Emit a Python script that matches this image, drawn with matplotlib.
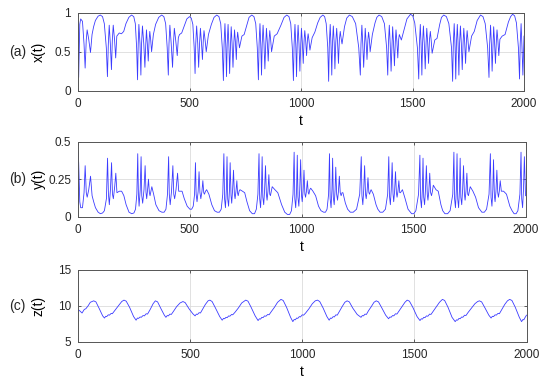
"""
plot.py
Time series x(t), y(t), z(t) in three stacked panels -> out.png
"""
import matplotlib
matplotlib.use("Agg")
import matplotlib.pyplot as plt

# time points shared by x(t) and y(t)
t_xy = [
    0, 3, 8, 12, 20, 27, 32, 37, 41, 48, 56, 63, 70,
    78, 90, 100, 110, 118, 127, 132, 136, 140, 145, 150, 154, 158, 164, 169, 174,
    185, 195, 205, 215,
    228, 240, 250, 257, 263, 267, 270, 273, 278, 282, 285, 289, 295, 300, 304, 307,
    311, 315, 319, 322, 326, 330, 338, 348,
    362, 375, 385, 393, 400, 405, 408, 412, 418, 424, 428, 432, 438, 445, 450, 455,
    465, 475,
    488, 500, 508, 515, 521, 525, 528, 532, 537, 541, 545, 549, 554, 558, 562, 565,
    570, 575, 585, 598,
    610, 622, 632, 640, 647, 652, 655, 659, 663, 666, 669, 673, 677, 680, 684, 687,
    691, 695, 699, 702, 706, 710, 713, 716, 720, 724, 735, 745, 755,
    767, 779, 789, 797, 804, 809, 812, 816, 820, 823, 826, 830, 834, 838, 842, 845,
    849, 853, 857, 860, 864, 868, 880, 893, 910,
    924, 936, 946, 954, 961, 966, 969, 973, 977, 980, 983, 987, 991, 995, 999, 1002,
    1006, 1010, 1014, 1017, 1021, 1025, 1029, 1032, 1036, 1040, 1050, 1062, 1075,
    1086, 1098, 1106, 1113, 1120, 1124, 1127, 1131, 1135, 1138, 1141, 1145, 1149,
    1152, 1156, 1160, 1164, 1168, 1172, 1176, 1180, 1184, 1195,
    1205, 1217, 1230, 1245, 1259, 1266, 1269, 1273, 1277, 1281, 1285, 1288, 1292,
    1296, 1300, 1303, 1307, 1310, 1320, 1332,
    1340, 1350, 1362, 1374, 1384, 1389, 1392, 1396, 1400, 1404, 1408, 1411, 1415,
    1419, 1423, 1426, 1430, 1434, 1438, 1441, 1450, 1462, 1475,
    1491, 1501, 1510, 1522, 1528, 1531, 1535, 1539, 1542, 1545, 1549, 1553, 1557,
    1561, 1564, 1568, 1572, 1576, 1580, 1584, 1588, 1600, 1610, 1622,
    1630, 1640, 1652, 1663, 1675, 1680, 1683, 1687, 1691, 1694, 1697, 1701, 1705,
    1708, 1711, 1715, 1719, 1723, 1727, 1730, 1734, 1738, 1742, 1745, 1749, 1753,
    1765, 1777, 1790,
    1805, 1816, 1826, 1837, 1843, 1846, 1850, 1854, 1857, 1861, 1864, 1868, 1872,
    1876, 1879, 1883, 1887, 1892, 1902, 1915, 1930,
    1940, 1949, 1958, 1966, 1975, 1980, 1983, 1987, 1991, 1995, 2000,
]

x_vals = [
    0.55, 0.17, 0.85, 0.92, 0.89, 0.60, 0.29, 0.65, 0.78, 0.66, 0.49, 0.72, 0.82,
    0.90, 0.955, 0.97, 0.95, 0.86, 0.55, 0.18, 0.60, 0.84, 0.60, 0.27, 0.65, 0.84, 0.65, 0.42, 0.70,
    0.74, 0.73, 0.76, 0.86,
    0.94, 0.97, 0.95, 0.86, 0.55, 0.14, 0.60, 0.85, 0.60, 0.20, 0.60, 0.83, 0.60, 0.30, 0.60, 0.78,
    0.60, 0.38, 0.65, 0.76, 0.65, 0.50, 0.72, 0.85,
    0.94, 0.97, 0.95, 0.86, 0.55, 0.20, 0.60, 0.84, 0.60, 0.30, 0.60, 0.80, 0.65, 0.45, 0.68, 0.72,
    0.74, 0.82,
    0.92, 0.95, 0.93, 0.85, 0.55, 0.22, 0.60, 0.83, 0.60, 0.30, 0.60, 0.80, 0.60, 0.40, 0.65, 0.77,
    0.65, 0.50, 0.72, 0.85,
    0.94, 0.97, 0.95, 0.86, 0.55, 0.13, 0.60, 0.86, 0.55, 0.18, 0.60, 0.85, 0.55, 0.22, 0.60, 0.82,
    0.60, 0.30, 0.62, 0.78, 0.62, 0.40, 0.65, 0.75, 0.65, 0.55, 0.70, 0.72, 0.82,
    0.94, 0.97, 0.95, 0.86, 0.55, 0.14, 0.60, 0.86, 0.55, 0.20, 0.60, 0.84, 0.60, 0.28, 0.60, 0.80,
    0.62, 0.38, 0.65, 0.77, 0.65, 0.50, 0.70, 0.73, 0.84,
    0.94, 0.97, 0.95, 0.86, 0.55, 0.13, 0.60, 0.85, 0.55, 0.18, 0.60, 0.84, 0.60, 0.25, 0.60, 0.80,
    0.62, 0.35, 0.65, 0.77, 0.64, 0.45, 0.66, 0.73, 0.64, 0.52, 0.68, 0.75, 0.87,
    0.94, 0.97, 0.95, 0.86, 0.55, 0.12, 0.60, 0.85, 0.55, 0.20, 0.60, 0.83, 0.60,
    0.28, 0.62, 0.80, 0.62, 0.35, 0.65, 0.76, 0.67, 0.60, 0.82,
    0.93, 0.97, 0.95, 0.86, 0.55, 0.20, 0.60, 0.84, 0.60, 0.30, 0.60, 0.80, 0.62,
    0.40, 0.65, 0.75, 0.65, 0.50, 0.72, 0.87,
    0.94, 0.97, 0.95, 0.86, 0.55, 0.20, 0.60, 0.84, 0.60, 0.25, 0.60, 0.82, 0.60,
    0.32, 0.63, 0.78, 0.63, 0.42, 0.66, 0.72, 0.65, 0.78, 0.92,
    0.98, 0.96, 0.87, 0.55, 0.15, 0.60, 0.85, 0.55, 0.20, 0.60, 0.83, 0.60, 0.28,
    0.62, 0.80, 0.62, 0.35, 0.65, 0.76, 0.64, 0.48, 0.65, 0.67, 0.85,
    0.94, 0.97, 0.95, 0.86, 0.55, 0.12, 0.60, 0.86, 0.55, 0.15, 0.60, 0.85, 0.55,
    0.20, 0.60, 0.83, 0.60, 0.27, 0.62, 0.80, 0.62, 0.35, 0.65, 0.77, 0.64, 0.50,
    0.70, 0.76, 0.90,
    0.97, 0.95, 0.86, 0.55, 0.17, 0.60, 0.84, 0.58, 0.25, 0.60, 0.82, 0.62, 0.35,
    0.64, 0.78, 0.64, 0.45, 0.66, 0.70, 0.72, 0.88,
    0.95, 0.98, 0.96, 0.87, 0.55, 0.15, 0.60, 0.86, 0.55, 0.20, 0.70,
]

y_vals = [
    0.43, 0.36, 0.10, 0.06, 0.06, 0.16, 0.34, 0.16, 0.13, 0.18, 0.27, 0.14, 0.10,
    0.06, 0.03, 0.02, 0.025, 0.04, 0.12, 0.39, 0.15, 0.08, 0.18, 0.36, 0.15, 0.12, 0.20, 0.29, 0.16,
    0.17, 0.17, 0.14, 0.08,
    0.03, 0.02, 0.025, 0.05, 0.15, 0.42, 0.15, 0.07, 0.18, 0.40, 0.14, 0.09, 0.18, 0.34, 0.16, 0.12,
    0.18, 0.25, 0.16, 0.14, 0.17, 0.20, 0.15, 0.08,
    0.04, 0.03, 0.03, 0.05, 0.15, 0.40, 0.15, 0.08, 0.17, 0.34, 0.15, 0.12, 0.18, 0.29, 0.17, 0.17,
    0.17, 0.12,
    0.07, 0.05, 0.05, 0.07, 0.15, 0.36, 0.15, 0.10, 0.17, 0.30, 0.16, 0.12, 0.17, 0.24, 0.16, 0.15,
    0.17, 0.18, 0.15, 0.08,
    0.04, 0.03, 0.03, 0.05, 0.15, 0.42, 0.12, 0.06, 0.18, 0.40, 0.12, 0.07, 0.18, 0.36, 0.14, 0.09,
    0.18, 0.31, 0.15, 0.12, 0.17, 0.24, 0.16, 0.14, 0.17, 0.18, 0.17, 0.16, 0.10,
    0.04, 0.02, 0.02, 0.05, 0.15, 0.42, 0.12, 0.06, 0.18, 0.40, 0.13, 0.08, 0.18, 0.34, 0.15, 0.11,
    0.17, 0.28, 0.15, 0.14, 0.17, 0.20, 0.18, 0.16, 0.08,
    0.03, 0.015, 0.015, 0.04, 0.15, 0.43, 0.12, 0.06, 0.18, 0.41, 0.13, 0.07, 0.18, 0.38, 0.14, 0.10,
    0.17, 0.31, 0.15, 0.13, 0.17, 0.24, 0.16, 0.15, 0.18, 0.19, 0.17, 0.14, 0.07,
    0.04, 0.03, 0.03, 0.05, 0.15, 0.42, 0.12, 0.06, 0.18, 0.39, 0.13, 0.08, 0.18,
    0.33, 0.15, 0.11, 0.17, 0.27, 0.16, 0.14, 0.16, 0.16, 0.09,
    0.05, 0.03, 0.03, 0.05, 0.15, 0.40, 0.14, 0.08, 0.18, 0.34, 0.15, 0.12, 0.17,
    0.26, 0.16, 0.15, 0.17, 0.18, 0.15, 0.08,
    0.05, 0.03, 0.03, 0.05, 0.15, 0.40, 0.14, 0.08, 0.18, 0.36, 0.15, 0.10, 0.17,
    0.30, 0.16, 0.13, 0.17, 0.24, 0.16, 0.16, 0.18, 0.12, 0.05,
    0.02, 0.02, 0.04, 0.15, 0.41, 0.12, 0.06, 0.18, 0.39, 0.13, 0.08, 0.18, 0.34,
    0.15, 0.11, 0.17, 0.29, 0.16, 0.14, 0.17, 0.21, 0.18, 0.17, 0.08,
    0.04, 0.02, 0.02, 0.04, 0.15, 0.43, 0.12, 0.06, 0.18, 0.42, 0.12, 0.06, 0.18,
    0.39, 0.13, 0.08, 0.18, 0.34, 0.15, 0.11, 0.17, 0.29, 0.15, 0.14, 0.17, 0.20,
    0.17, 0.13, 0.06,
    0.03, 0.03, 0.05, 0.15, 0.42, 0.13, 0.07, 0.18, 0.38, 0.14, 0.10, 0.17, 0.31,
    0.16, 0.13, 0.17, 0.24, 0.17, 0.17, 0.15, 0.07,
    0.04, 0.02, 0.02, 0.04, 0.15, 0.43, 0.12, 0.06, 0.18, 0.40, 0.14,
]

# z(t) has its own sampling
t_z = [
    0, 8, 18, 28, 35, 45, 55, 70, 80, 95, 110, 118,
    124, 128, 135, 140, 148, 153, 165, 180, 195, 205, 215, 230, 248, 259,
    265, 270, 277, 282, 290, 296, 304, 310, 322, 335, 345, 355, 370, 385, 392,
    398, 403, 410, 416, 425, 440, 455, 468, 478, 495, 512, 522,
    528, 533, 540, 546, 555, 568, 580, 588, 598, 613, 632, 643,
    649, 654, 660, 665, 672, 677, 685, 690, 700, 715, 730, 748, 758, 772, 790, 803,
    809, 814, 820, 825, 832, 838, 846, 852, 862, 876, 890, 905, 915, 930, 948, 958,
    964, 969, 975, 980, 987, 992, 1000, 1006, 1015, 1030, 1045, 1058, 1068, 1078,
    1093, 1110, 1120,
    1126, 1131, 1138, 1143, 1150, 1156, 1165, 1178, 1190, 1200, 1210, 1225, 1245, 1262,
    1268, 1273, 1280, 1286, 1295, 1308, 1320, 1330, 1340, 1355, 1372, 1385,
    1391, 1396, 1403, 1408, 1416, 1422, 1432, 1445, 1458, 1468, 1478, 1493, 1512, 1525,
    1531, 1536, 1542, 1547, 1554, 1560, 1568, 1574, 1585, 1598, 1612, 1625, 1635,
    1650, 1668, 1682,
    1688, 1693, 1699, 1704, 1711, 1716, 1724, 1730, 1740, 1755, 1770, 1782, 1790,
    1800, 1815, 1832, 1842,
    1848, 1853, 1860, 1865, 1873, 1879, 1890, 1903, 1915, 1925, 1935, 1950, 1968, 1978,
    1984, 1988, 1994, 2000,
]

z_vals = [
    9.5, 9.3, 9.0, 9.5, 9.6, 10.0, 10.5, 10.7, 10.55, 9.6, 8.6, 8.3,
    8.55, 8.5, 8.75, 8.7, 8.95, 8.9, 9.4, 10.0, 10.6, 10.8, 10.65, 9.8, 8.5, 8.0,
    8.3, 8.25, 8.45, 8.4, 8.65, 8.6, 8.9, 8.85, 9.5, 10.3, 10.7, 10.55, 9.6, 8.7, 8.4,
    8.65, 8.6, 8.85, 8.8, 9.2, 9.9, 10.4, 10.6, 10.45, 9.6, 8.9, 8.6,
    8.85, 8.8, 9.05, 9.0, 9.5, 10.2, 10.7, 10.8, 10.6, 9.7, 8.5, 8.0,
    8.25, 8.2, 8.4, 8.35, 8.6, 8.55, 8.8, 8.75, 9.1, 9.7, 10.4, 10.8, 10.65, 9.8, 8.6, 7.95,
    8.2, 8.15, 8.4, 8.35, 8.6, 8.55, 8.8, 8.75, 9.2, 9.8, 10.5, 10.9, 10.75, 9.8, 8.4, 7.8,
    8.1, 8.05, 8.3, 8.25, 8.5, 8.45, 8.75, 8.7, 9.0, 9.6, 10.3, 10.7, 10.8, 10.6,
    9.7, 8.5, 8.0,
    8.3, 8.25, 8.5, 8.45, 8.75, 8.7, 9.2, 9.9, 10.5, 10.7, 10.55, 9.7, 8.8, 8.4,
    8.65, 8.6, 8.85, 8.8, 9.3, 9.9, 10.5, 10.7, 10.55, 9.7, 8.7, 8.2,
    8.45, 8.4, 8.65, 8.6, 8.9, 8.85, 9.3, 9.9, 10.5, 10.8, 10.65, 9.8, 8.5, 7.95,
    8.2, 8.15, 8.4, 8.35, 8.6, 8.55, 8.85, 8.8, 9.3, 9.9, 10.5, 10.9, 10.75,
    9.8, 8.4, 7.8,
    8.05, 8.0, 8.25, 8.2, 8.45, 8.4, 8.7, 8.65, 9.1, 9.7, 10.3, 10.6, 10.7,
    10.55, 9.7, 8.7, 8.3,
    8.55, 8.5, 8.75, 8.7, 8.95, 8.9, 9.5, 10.2, 10.7, 10.9, 10.75, 9.8, 8.4, 7.8,
    8.1, 8.05, 8.4, 8.7,
]

x_ticks = [0, 500, 1000, 1500, 2000]
panel_tags = ["(a)", "(b)", "(c)"]
y_labels = ["x(t)", "y(t)", "z(t)"]
y_limits = [(0, 1), (0, 0.5), (5, 15)]
y_ticks = [[0, 0.5, 1], [0, 0.25, 0.5], [5, 10, 15]]
y_ticklabels = [["0", "0.5", "1"], ["0", "0.25", "0.5"], ["5", "10", "15"]]

W, H = 550, 382
# axes boxes in pixels: left, top, right, bottom
boxes = [(78, 12.7, 524, 90.7), (78, 141.7, 525.5, 216.7), (78, 270, 526.5, 341.7)]

LINE = "#3b3bff"
FONT = ["Liberation Sans", "DejaVu Sans"]


def main():
    plt.rcParams["font.family"] = FONT
    plt.rcParams["font.size"] = 8.5
    fig = plt.figure(figsize=(W / 100, H / 100), dpi=100)

    series = [(t_xy, x_vals), (t_xy, y_vals), (t_z, z_vals)]
    for i, (tt, vv) in enumerate(series):
        l, t, r, b = boxes[i]
        ax = fig.add_axes([l / W, 1 - b / H, (r - l) / W, (b - t) / H])
        ax.plot(tt, vv, color=LINE, lw=0.6)
        ax.set_xlim(0, 2000)
        ax.set_ylim(*y_limits[i])
        ax.set_xticks(x_ticks)
        ax.set_yticks(y_ticks[i])
        ax.set_yticklabels(y_ticklabels[i])
        ax.grid(True, color="#dcdcdc", lw=0.6)
        ax.set_axisbelow(True)
        for s in ax.spines.values():
            s.set_color("#555555")
            s.set_linewidth(0.7)
        ax.tick_params(direction="in", length=2.5, width=0.6, color="#444444",
                       top=True, right=True, labelcolor="#262626", pad=5)
        ax.set_xlabel("t", fontsize=10, labelpad=3)
        ax.set_ylabel(y_labels[i], fontsize=10)
        ax.yaxis.set_label_coords(-32 / (r - l), 0.5)
        fig.text(9 / W, 1 - (t + b) / 2 / H, panel_tags[i], fontsize=10,
                 ha="left", va="center", color="#262626")

    fig.savefig("out.png", dpi=100)
    plt.close(fig)


if __name__ == "__main__":
    main()
